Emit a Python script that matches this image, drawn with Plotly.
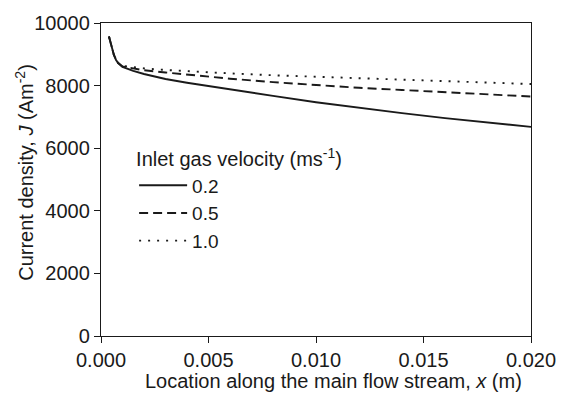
import plotly.graph_objects as go

# Location along flow stream (m)
x_loc = [0.00037, 0.0005, 0.0006, 0.0007, 0.0008, 0.001, 0.0015, 0.002, 0.003,
         0.004, 0.005, 0.006, 0.008, 0.010, 0.012, 0.014, 0.016, 0.018, 0.020]

# Current density (A m^-2) for inlet gas velocities
j_02 = [9570, 9200, 8980, 8820, 8720, 8600, 8470, 8370, 8210,
        8090, 7980, 7880, 7670, 7470, 7290, 7120, 6960, 6820, 6680]
j_05 = [9570, 9200, 8980, 8820, 8720, 8610, 8540, 8490, 8420,
        8350, 8280, 8220, 8110, 8010, 7930, 7860, 7790, 7720, 7650]
j_10 = [9570, 9200, 8980, 8820, 8720, 8630, 8580, 8550, 8500,
        8460, 8420, 8390, 8330, 8280, 8230, 8190, 8140, 8100, 8050]

labels = ["0.2", "0.5", "1.0"]
x_ticks = [0.000, 0.005, 0.010, 0.015, 0.020]
y_ticks = [0, 2000, 4000, 6000, 8000, 10000]

FONT = "Liberation Sans, Arial, sans-serif"
INK = "#1a1a1a"
FS = 20

fig = go.Figure()
fig.add_trace(go.Scatter(x=x_loc, y=j_10, mode="lines", name=labels[2], legendrank=3,
                         line=dict(color=INK, width=1.9, dash="2px,7px")))
fig.add_trace(go.Scatter(x=x_loc, y=j_05, mode="lines", name=labels[1], legendrank=2,
                         line=dict(color=INK, width=1.9, dash="9px,5px")))
fig.add_trace(go.Scatter(x=x_loc, y=j_02, mode="lines", name=labels[0], legendrank=1,
                         line=dict(color=INK, width=1.9)))

fig.update_layout(
    width=568, height=395,
    margin=dict(l=101, r=36, t=18, b=59),
    paper_bgcolor="white", plot_bgcolor="white",
    font=dict(family=FONT, size=FS, color=INK),
    showlegend=True,
    legend=dict(
        x=0.077, y=0.625, xanchor="left", yanchor="top",
        bgcolor="rgba(0,0,0,0)", borderwidth=0,
        title=dict(text="Inlet gas velocity (ms<sup>-1</sup>)", font=dict(size=FS)),
        font=dict(size=19), itemwidth=48, tracegroupgap=0,
    ),
    annotations=[
        dict(text="Location along the main flow stream, <i>x</i> (m)",
             xref="paper", yref="paper", x=0.5406, y=(336 - 382) / 318,
             xanchor="center", yanchor="middle", showarrow=False,
             font=dict(size=FS)),
        dict(text="Current density, <i>J</i> (Am<sup>-2</sup>)",
             xref="paper", yref="paper", x=(24 - 101) / 431, y=0.522,
             xanchor="center", yanchor="middle", textangle=-90, showarrow=False,
             font=dict(size=FS)),
    ],
)

fig.update_xaxes(range=[0, 0.020], tickvals=x_ticks, tickformat=".3f",
                 showgrid=False, zeroline=False, showline=True, linecolor=INK,
                 linewidth=1.3, mirror=True, ticks="outside", ticklen=6,
                 tickwidth=1.3, tickcolor=INK)
fig.update_yaxes(range=[0, 10000], tickvals=y_ticks, tickformat="d",
                 showgrid=False, zeroline=False, showline=True, linecolor=INK,
                 linewidth=1.3, mirror=True, ticks="outside", ticklen=6,
                 tickwidth=1.3, tickcolor=INK)

fig.write_html("out.html")
